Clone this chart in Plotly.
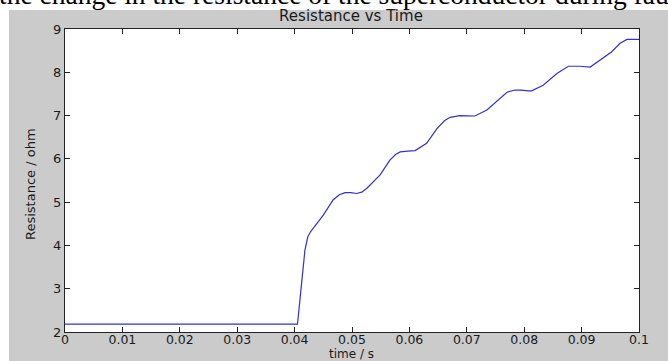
import plotly.graph_objects as go

# Data
time_s = [0.0, 0.0405, 0.0412, 0.0418, 0.0423, 0.0428, 0.0450, 0.0467, 0.0478,
          0.0488, 0.0498, 0.0508, 0.0517, 0.0526, 0.0549, 0.0566, 0.0576, 0.0584,
          0.0597, 0.0610, 0.0630, 0.0648, 0.0661, 0.0671, 0.0688, 0.0700, 0.0714,
          0.0735, 0.0752, 0.0770, 0.0784, 0.0795, 0.0807, 0.0813, 0.0833, 0.0857,
          0.0877, 0.0897, 0.0915, 0.0935, 0.0952, 0.0967, 0.0979, 0.1000]
resistance_ohm = [2.18, 2.18, 3.10, 3.89, 4.20, 4.32, 4.70, 5.05, 5.17,
                  5.22, 5.22, 5.20, 5.23, 5.32, 5.63, 5.97, 6.10, 6.16,
                  6.18, 6.19, 6.36, 6.70, 6.88, 6.96, 7.00, 6.99, 6.99,
                  7.13, 7.32, 7.54, 7.59, 7.59, 7.57, 7.57, 7.70, 7.97,
                  8.14, 8.14, 8.12, 8.32, 8.47, 8.67, 8.76, 8.76]
x_ticks = [0, 0.01, 0.02, 0.03, 0.04, 0.05, 0.06, 0.07, 0.08, 0.09, 0.1]
x_tick_labels = ["0", "0.01", "0.02", "0.03", "0.04", "0.05", "0.06", "0.07", "0.08", "0.09", "0.1"]
y_ticks = [2, 3, 4, 5, 6, 7, 8, 9]

caption = "the change in the resistance of the superconductor during fault"
chart_title = "Resistance vs Time"
x_title = "time / s"
y_title = "Resistance / ohm"

W, H = 668, 361
L, R, T, B = 65, 29, 29, 29
pw, ph = W - L - R, H - T - B

def px_x(p):
    return (p - L) / pw

def px_y(p):
    return (H - B - p) / ph

GRAY = "#cbcbcb"
FONT = "DejaVu Sans, sans-serif"
TXT = "#1a1a1a"

fig = go.Figure()
fig.add_trace(go.Scatter(x=time_s, y=resistance_ohm, mode="lines",
                         line=dict(color="#3232c8", width=1.2), showlegend=False))

axis_common = dict(showgrid=False, zeroline=False, showline=True, linecolor="#222",
                   linewidth=1, mirror="ticks", ticks="inside", ticklen=5,
                   tickcolor="#222", automargin=False)

fig.update_xaxes(range=[0, 0.1], tickvals=x_ticks, ticktext=x_tick_labels,
                 ticklabelstandoff=-4, tickfont=dict(family=FONT, size=12.5, color=TXT),
                 **axis_common)
fig.update_yaxes(range=[2, 9], tickvals=y_ticks,
                 tickfont=dict(family=FONT, size=13, color=TXT), **axis_common)

fig.update_layout(
    width=W, height=H, autosize=False,
    margin=dict(l=L, r=R, t=T, b=B, pad=0),
    paper_bgcolor=GRAY, plot_bgcolor="white",
    title=dict(text=chart_title, x=px_x(351), xref="paper", xanchor="center",
               y=1 - 15.5 / H, yref="container", yanchor="middle",
               font=dict(family=FONT, size=15, color=TXT)),
    shapes=[
        dict(type="rect", xref="paper", yref="paper", x0=px_x(-5), x1=px_x(W + 5),
             y0=px_y(10), y1=px_y(-5), fillcolor="white", line=dict(width=0), layer="below"),
        dict(type="rect", xref="paper", yref="paper", x0=px_x(-5), x1=px_x(9),
             y0=px_y(H + 5), y1=px_y(-5), fillcolor="white", line=dict(width=0), layer="below"),
    ],
    annotations=[
        dict(text=caption, xref="paper", yref="paper", x=px_x(-3), y=px_y(-5),
             xanchor="left", yanchor="middle", showarrow=False,
             font=dict(family="Liberation Serif, Times New Roman, serif", size=27.5, color="black")),
        dict(text=x_title, xref="paper", yref="paper", x=px_x(351), y=px_y(354),
             xanchor="center", yanchor="middle", showarrow=False,
             font=dict(family=FONT, size=12, color=TXT)),
        dict(text=y_title, xref="paper", yref="paper", x=px_x(30), y=px_y(184),
             xanchor="center", yanchor="middle", showarrow=False, textangle=-90,
             font=dict(family=FONT, size=13, color=TXT)),
    ],
)

fig.write_html("out.html")
